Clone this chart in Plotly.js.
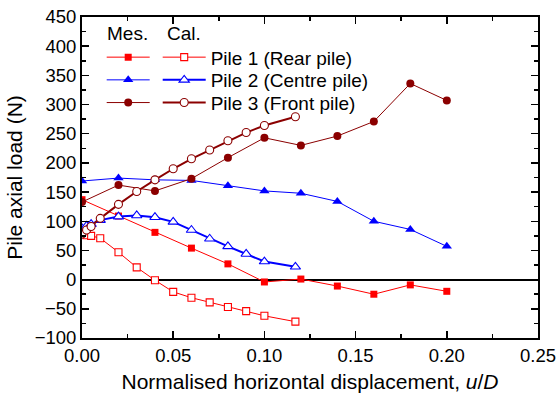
<!DOCTYPE html>
<html>
<head>
<meta charset="utf-8">
<script src="https://cdn.plot.ly/plotly-3.0.1.min.js"></script>
<style>html,body{margin:0;padding:0;background:#fff;}#chart{width:559px;height:398px;}</style>
</head>
<body>
<div id="chart"></div>
<script>
// ---- data ----
var p1MesX = [0, 0.02, 0.04, 0.06, 0.08, 0.10, 0.12, 0.14, 0.16, 0.18, 0.20];
var p1MesY = [137, 109, 81, 54, 27, -4, 1, -11, -25, -9, -20];
var p2MesX = [0, 0.02, 0.04, 0.06, 0.08, 0.10, 0.12, 0.14, 0.16, 0.18, 0.20];
var p2MesY = [169, 174, 171, 170, 161, 152, 148, 134, 100, 86, 57];
var p3MesX = [0, 0.02, 0.04, 0.06, 0.08, 0.10, 0.12, 0.14, 0.16, 0.18, 0.20];
var p3MesY = [133, 162, 152, 173, 209, 243, 230, 246, 271, 336, 307];

var p1CalX = [0, 0.0025, 0.005, 0.01, 0.02, 0.03, 0.04, 0.05, 0.06, 0.07, 0.08, 0.09, 0.10, 0.117];
var p1CalY = [82, 76, 75, 71, 47, 21, -1, -21, -31, -39, -47, -54, -62, -72];
var p2CalX = [0, 0.0025, 0.005, 0.01, 0.02, 0.03, 0.04, 0.05, 0.06, 0.07, 0.08, 0.09, 0.10, 0.117];
var p2CalY = [88, 92, 95, 102, 108, 110, 107, 99, 85, 70, 57, 44, 31, 22];
var p3CalX = [0, 0.0025, 0.005, 0.01, 0.02, 0.03, 0.04, 0.05, 0.06, 0.07, 0.08, 0.09, 0.10, 0.117];
var p3CalY = [78, 85, 91, 105, 129, 151, 171, 190, 207, 222, 238, 252, 264, 279];

var seriesNames = ['Pile 1 (Rear pile)', 'Pile 2 (Centre pile)', 'Pile 3 (Front pile)'];
var colRed = '#ff0000', colBlue = '#0000ff', colDark = '#8b0000';

var FONT = 'Arial, "Liberation Sans", Helvetica, sans-serif';

function mes(x, y, color, symbol, size, leg) {
  return {x: x, y: y, type: 'scatter', mode: 'lines+markers', name: '',
    legend: leg, line: {color: color, width: 1},
    marker: {symbol: symbol, size: size, color: color, line: {width: 0}}};
}
function cal(x, y, color, symbol, size, lw, name, leg) {
  return {x: x, y: y, type: 'scatter', mode: 'lines+markers', name: name,
    legend: leg, line: {color: color, width: lw},
    marker: {symbol: symbol, size: size, color: '#ffffff', line: {color: color, width: 1.1}}};
}

var traces = [
  mes(p1MesX, p1MesY, colRed, 'square', 7, 'legend'),
  mes(p2MesX, p2MesY, colBlue, 'triangle-up', 9, 'legend2'),
  mes(p3MesX, p3MesY, colDark, 'circle', 8, 'legend3'),
  cal(p1CalX, p1CalY, colRed, 'square', 7, 1, seriesNames[0], 'legend4'),
  cal(p2CalX, p2CalY, colBlue, 'triangle-up', 9, 2, seriesNames[1], 'legend5'),
  cal(p3CalX, p3CalY, colDark, 'circle', 8, 2, seriesNames[2], 'legend6')
];

// plot area: l=82, r=21, t=17, b=60 -> w=456, h=321
function legAt(px, py) {
  return {x: (px - 82) / 456, y: 1 - (py - 17) / 321, xanchor: 'left', yanchor: 'middle',
    bgcolor: 'rgba(0,0,0,0)', borderwidth: 0, itemwidth: 43,
    font: {family: FONT, size: 19, color: '#000'}, tracegroupgap: 0};
}

var axisCommon = {
  showline: true, linecolor: '#000', linewidth: 2, mirror: 'allticks',
  ticks: 'inside', ticklen: 7, tickwidth: 1.5, tickcolor: '#000',
  showgrid: false, tickfont: {family: FONT, size: 18.5, color: '#000'}
};

var layout = {
  width: 559, height: 398,
  margin: {l: 82, r: 21, t: 17, b: 60},
  paper_bgcolor: '#fff', plot_bgcolor: '#fff',
  font: {family: FONT, color: '#000'},
  showlegend: true,
  xaxis: Object.assign({}, axisCommon, {
    range: [0, 0.25], dtick: 0.05, tick0: 0, tickformat: '.2f', zeroline: false,
    minor: {ticks: 'inside', ticklen: 4, tickwidth: 1.5, tickcolor: '#000', dtick: 0.025, showgrid: false},
    title: {text: 'Normalised horizontal displacement, <i>u</i>/<i>D</i>', font: {family: FONT, size: 21, color: '#000'}, standoff: 9}
  }),
  yaxis: Object.assign({}, axisCommon, {
    range: [-100, 450], dtick: 50, tick0: 0,
    zeroline: true, zerolinecolor: '#000', zerolinewidth: 2,
    minor: {ticks: 'inside', ticklen: 4, tickwidth: 1.5, tickcolor: '#000', dtick: 25, showgrid: false},
    title: {text: 'Pile axial load (N)', font: {family: FONT, size: 21, color: '#000'}, standoff: 6}
  }),
  legend: legAt(101.7, 57.3),
  legend2: legAt(101.7, 80),
  legend3: legAt(101.7, 102.7),
  legend4: legAt(157.7, 57.3),
  legend5: legAt(157.7, 80),
  legend6: legAt(157.7, 102.7),
  annotations: [
    {text: 'Mes.', xref: 'paper', yref: 'paper', x: (105 - 82) / 456, y: 1 - (33 - 17) / 321,
     xanchor: 'left', yanchor: 'middle', showarrow: false, font: {family: FONT, size: 19, color: '#000'}},
    {text: 'Cal.', xref: 'paper', yref: 'paper', x: (165 - 82) / 456, y: 1 - (33 - 17) / 321,
     xanchor: 'left', yanchor: 'middle', showarrow: false, font: {family: FONT, size: 19, color: '#000'}}
  ]
};

Plotly.newPlot('chart', traces, layout, {displayModeBar: false, staticPlot: true});
</script>
</body>
</html>
